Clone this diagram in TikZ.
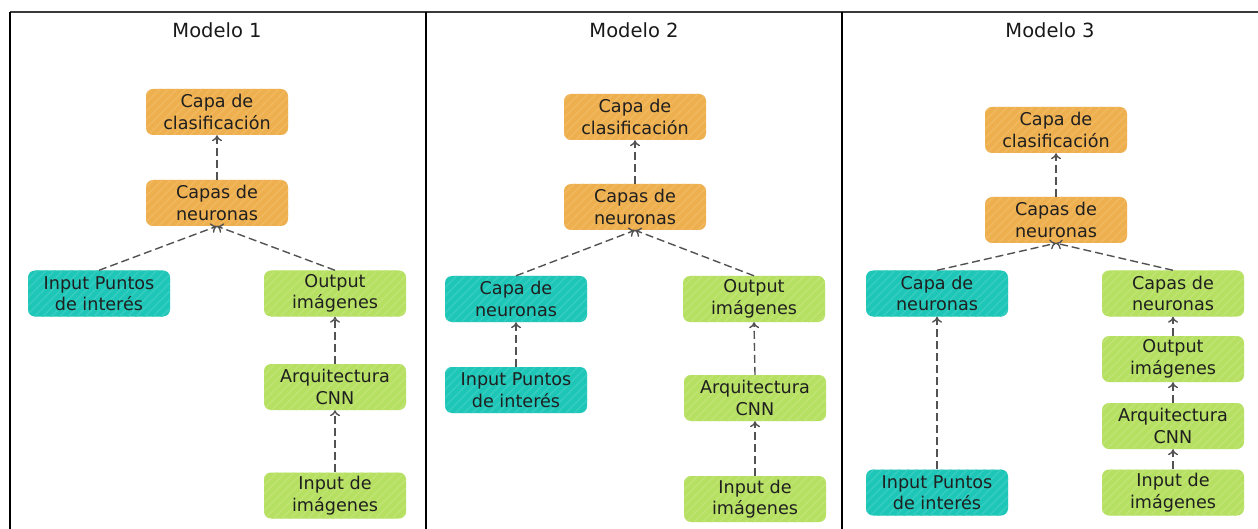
\documentclass[tikz,border=0pt]{standalone}
\usepackage{fontspec}
\setmainfont{DejaVu Sans}
\usetikzlibrary{patterns.meta,arrows.meta}
\definecolor{orangebox}{HTML}{EEAF4F}
\definecolor{orangestripe}{HTML}{F1B85E}
\definecolor{tealbox}{HTML}{1EC6B8}
\definecolor{tealstripe}{HTML}{33CDC0}
\definecolor{greenbox}{HTML}{B6E062}
\definecolor{greenstripe}{HTML}{BFE472}
\definecolor{framegray}{HTML}{3A3A3A}
\tikzset{
  box/.style={rounded corners=7pt, minimum width=142pt, minimum height=46pt,
    align=center, inner sep=0pt, text=black!88,
    font=\fontsize{17.6}{21.5}\selectfont},
  ob/.style={box, fill=orangebox,
    postaction={pattern={Lines[angle=45,distance=6pt,line width=1.6pt]}, pattern color=orangestripe}},
  tb/.style={box, fill=tealbox,
    postaction={pattern={Lines[angle=45,distance=6pt,line width=1.6pt]}, pattern color=tealstripe}},
  gb/.style={box, fill=greenbox,
    postaction={pattern={Lines[angle=45,distance=6pt,line width=1.6pt]}, pattern color=greenstripe}},
  link/.style={draw=black!68, line width=1.4pt, dash pattern=on 8pt off 4pt,
    -{To[length=6pt,width=10pt]}},
  paneltitle/.style={font=\fontsize{19.5}{23}\selectfont, text=black!90}
}
\begin{document}
\begin{tikzpicture}[x=1pt,y=-1pt]
\useasboundingbox (0,0) rectangle (1258,529);
% panel frame
\draw[framegray, line width=2pt] (10,12.5) -- (1258,12.5);
\draw[black, line width=2pt] (10,12) -- (10,529);
\draw[black, line width=2pt] (426,12) -- (426,529);
\draw[black, line width=2pt] (842,12) -- (842,529);

% titles
\node[paneltitle] (t1) at (217,30) {Modelo 1};
\node[paneltitle] (t2) at (634,30) {Modelo 2};
\node[paneltitle] (t3) at (1050,30) {Modelo 3};

% Modelo 1
\node[ob] (a1) at (217,112) {Capa de\\clasificación};
\node[ob] (a2) at (217,203) {Capas de\\neuronas};
\node[tb] (a3) at (99,293.5) {Input Puntos\\de interés};
\node[gb] (a4) at (335,293.5) {Output\\imágenes};
\node[gb] (a5) at (335,387) {Arquitectura\\CNN};
\node[gb] (a6) at (335,495.5) {Input de\\imágenes};
\draw[link] (a2.north) -- (a1.south);
\draw[link] (a3.north) -- (a2.south);
\draw[link] (a4.north) -- (a2.south);
\draw[link] (a5.north) -- (a4.south);
\draw[link] (a6.north) -- (a5.south);

% Modelo 2
\node[ob] (b1) at (635,117) {Capa de\\clasificación};
\node[ob] (b2) at (635,207) {Capas de\\neuronas};
\node[tb] (b3) at (516,299) {Capa de\\neuronas};
\node[tb] (b4) at (516,390) {Input Puntos\\de interés};
\node[gb] (b5) at (754,299) {Output\\imágenes};
\node[gb] (b6) at (755,398) {Arquitectura\\CNN};
\node[gb] (b7) at (755,499) {Input de\\imágenes};
\draw[link] (b2.north) -- (b1.south);
\draw[link] (b3.north) -- (b2.south);
\draw[link] (b5.north) -- (b2.south);
\draw[link] (b4.north) -- (b3.south);
\draw[link] (b6.north) -- (b5.south);
\draw[link] (b7.north) -- (b6.south);

% Modelo 3
\node[ob] (c1) at (1056,130) {Capa de\\clasificación};
\node[ob] (c2) at (1056,220) {Capas de\\neuronas};
\node[tb] (c3) at (937,293.5) {Capa de\\neuronas};
\node[tb] (c4) at (937,492.5) {Input Puntos\\de interés};
\node[gb] (c5) at (1173,293.5) {Capas de\\neuronas};
\node[gb] (c6) at (1173,359) {Output\\imágenes};
\node[gb] (c7) at (1173,426) {Arquitectura\\CNN};
\node[gb] (c8) at (1173,492.5) {Input de\\imágenes};
\draw[link] (c2.north) -- (c1.south);
\draw[link] (c3.north) -- (c2.south);
\draw[link] (c5.north) -- (c2.south);
\draw[link] (c4.north) -- (c3.south);
\draw[link] (c6.north) -- (c5.south);
\draw[link] (c7.north) -- (c6.south);
\draw[link] (c8.north) -- (c7.south);
\end{tikzpicture}
\end{document}
